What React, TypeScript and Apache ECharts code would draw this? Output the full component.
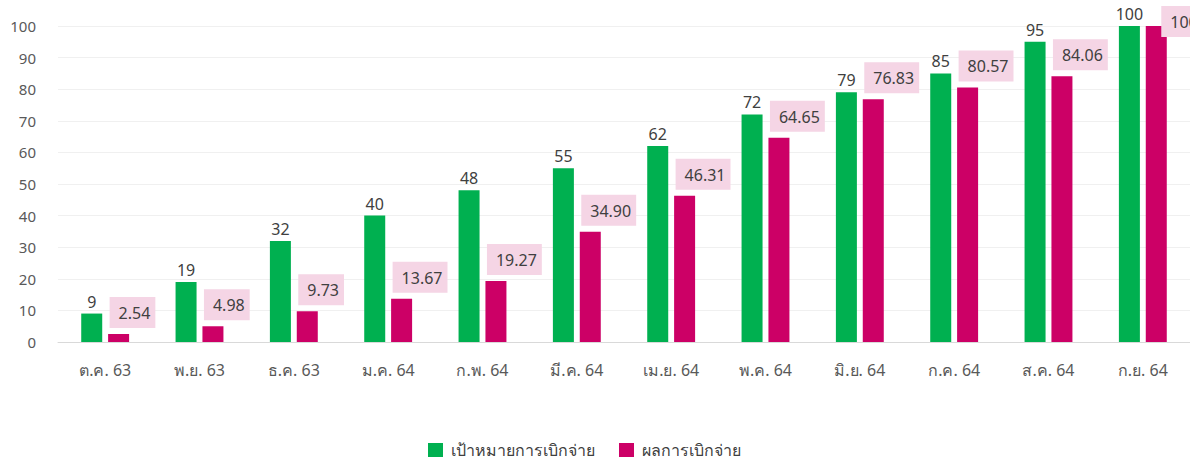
import React, { useEffect, useRef } from "react";
import * as echarts from "echarts";

const categories = ["ต.ค. 63", "พ.ย. 63", "ธ.ค. 63", "ม.ค. 64", "ก.พ. 64", "มี.ค. 64", "เม.ย. 64", "พ.ค. 64", "มิ.ย. 64", "ก.ค. 64", "ส.ค. 64", "ก.ย. 64"];
const targetValues = [9, 19, 32, 40, 48, 55, 62, 72, 79, 85, 95, 100];
const actualValues = [2.54, 4.98, 9.73, 13.67, 19.27, 34.9, 46.31, 64.65, 76.83, 80.57, 84.06, 100];
const seriesNames = ["เป้าหมายการเบิกจ่าย", "ผลการเบิกจ่าย"];

const FONT = "'Noto Sans', 'DejaVu Sans', sans-serif";

export default function App() {
  const ref = useRef<HTMLDivElement>(null);
  useEffect(() => {
    if (!ref.current) return;
    const chart = echarts.init(ref.current, undefined, { renderer: "svg" });
    chart.setOption({
      animation: false,
      textStyle: { fontFamily: FONT },
      grid: { left: 58, right: -2, top: 26, bottom: 123, containLabel: false },
      legend: {
        top: 437,
        left: 423,
        itemWidth: 15,
        itemHeight: 14,
        itemGap: 24,
        icon: "rect",
        textStyle: { fontSize: 16, color: "#404040", fontFamily: FONT, padding: [0, 0, 0, 3] },
        data: seriesNames,
      },
      xAxis: {
        type: "category",
        data: categories,
        axisLine: { lineStyle: { color: "#d9d9d9", width: 1 } },
        axisTick: { show: false },
        axisLabel: { color: "#595959", fontSize: 16, margin: 20, fontFamily: FONT },
      },
      yAxis: {
        type: "value",
        min: 0,
        max: 100,
        interval: 10,
        axisLine: { show: false },
        axisTick: { show: false },
        splitLine: { lineStyle: { color: "#f0f0f0", width: 1 } },
        axisLabel: { color: "#595959", fontSize: 15, margin: 22, fontFamily: FONT },
      },
      series: [
        {
          name: seriesNames[0],
          type: "bar",
          data: targetValues,
          barWidth: 21,
          barGap: "28%",
          itemStyle: { color: "#00b050" },
          label: {
            show: true,
            position: "top",
            distance: 4,
            color: "#404040",
            fontSize: 16,
            fontFamily: FONT,
          },
        },
        {
          name: seriesNames[1],
          type: "bar",
          barWidth: 21,
          barGap: "28%",
          data: actualValues.map((v) =>
            v >= 100
              ? { value: v, label: { offset: [5, 17] } }
              : v
          ),
          itemStyle: { color: "#cc0066" },
          label: {
            show: true,
            position: "top",
            distance: 6,
            align: "left",
            offset: [-9, 0],
            color: "#404040",
            fontSize: 16,
            fontFamily: FONT,
            backgroundColor: "#f5d5e5",
            padding: [8, 5, 7, 9],
            formatter: (p: any) => Number(p.value).toFixed(2),
          },
        },
      ],
    });
    return () => chart.dispose();
  }, []);
  return (
    <div
      ref={ref}
      style={{ position: "absolute", left: 0, top: 0, width: 1190, height: 465 }}
    />
  );
}
